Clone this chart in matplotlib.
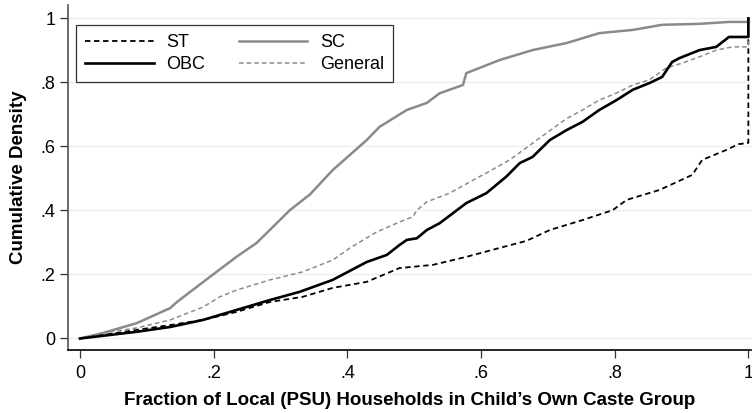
import matplotlib
matplotlib.use("Agg")
import matplotlib.pyplot as plt

plt.rcParams['font.family'] = ['Liberation Sans', 'DejaVu Sans']

st_x = [0.0, 0.085, 0.135, 0.184, 0.234, 0.284, 0.333, 0.378, 0.429, 0.478, 0.528, 0.578,
        0.628, 0.668, 0.703, 0.752, 0.797, 0.818, 0.867, 0.916, 0.931, 0.967, 0.985, 1.0, 1.0]
st_y = [0.0, 0.027, 0.042, 0.058, 0.083, 0.114, 0.130, 0.158, 0.177, 0.220, 0.230, 0.255,
        0.283, 0.305, 0.339, 0.370, 0.401, 0.433, 0.464, 0.511, 0.558, 0.589, 0.607, 0.611, 1.0]

sc_x = [0.0, 0.034, 0.085, 0.135, 0.145, 0.194, 0.234, 0.264, 0.284, 0.314, 0.344, 0.378,
        0.429, 0.448, 0.489, 0.519, 0.538, 0.573, 0.578, 0.628, 0.677, 0.728, 0.777, 0.827,
        0.871, 0.927, 0.971, 1.0, 1.0]
sc_y = [0.0, 0.017, 0.048, 0.095, 0.114, 0.192, 0.255, 0.298, 0.339, 0.401, 0.450, 0.526,
        0.620, 0.661, 0.714, 0.736, 0.766, 0.792, 0.829, 0.870, 0.901, 0.923, 0.954, 0.964,
        0.980, 0.983, 0.989, 0.989, 1.0]

obc_x = [0.0, 0.085, 0.135, 0.184, 0.234, 0.284, 0.329, 0.378, 0.429, 0.459, 0.478, 0.489,
         0.504, 0.519, 0.538, 0.578, 0.608, 0.638, 0.658, 0.677, 0.703, 0.728, 0.752, 0.777,
         0.803, 0.827, 0.852, 0.871, 0.886, 0.897, 0.927, 0.952, 0.971, 1.0, 1.0]
obc_y = [0.0, 0.021, 0.036, 0.058, 0.089, 0.120, 0.146, 0.183, 0.239, 0.261, 0.292, 0.308,
         0.313, 0.339, 0.360, 0.423, 0.454, 0.506, 0.548, 0.567, 0.620, 0.651, 0.677, 0.714,
         0.745, 0.777, 0.798, 0.817, 0.864, 0.876, 0.901, 0.911, 0.942, 0.942, 1.0]

gen_x = [0.0, 0.034, 0.085, 0.135, 0.184, 0.209, 0.234, 0.284, 0.333, 0.378, 0.404, 0.444,
         0.478, 0.498, 0.504, 0.519, 0.553, 0.598, 0.608, 0.643, 0.677, 0.728, 0.752, 0.777,
         0.803, 0.827, 0.852, 0.877, 0.902, 0.927, 0.952, 0.976, 1.0, 1.0]
gen_y = [0.0, 0.017, 0.033, 0.058, 0.098, 0.130, 0.151, 0.183, 0.208, 0.245, 0.283, 0.333,
         0.364, 0.380, 0.401, 0.427, 0.454, 0.506, 0.517, 0.558, 0.610, 0.687, 0.714, 0.745,
         0.767, 0.792, 0.808, 0.845, 0.861, 0.880, 0.901, 0.911, 0.911, 1.0]

x_ticks = [0, 0.2, 0.4, 0.6, 0.8, 1.0]
x_ticklabels = ['0', '.2', '.4', '.6', '.8', '1']
y_ticks = [0, 0.2, 0.4, 0.6, 0.8, 1.0]
y_ticklabels = ['0', '.2', '.4', '.6', '.8', '1']

fig = plt.figure(figsize=(7.52, 4.13), dpi=100)
ax = fig.add_axes([0.0904, 0.1525, 0.9083, 0.8355])

h_st, = ax.plot(st_x, st_y, color='black', lw=1.3, ls=(0, (3, 2)), label='ST', zorder=3)
h_sc, = ax.plot(sc_x, sc_y, color='#8a8a8a', lw=1.8, ls='-', label='SC', zorder=2)
h_obc, = ax.plot(obc_x, obc_y, color='black', lw=1.9, ls='-', label='OBC', zorder=4)
h_gen, = ax.plot(gen_x, gen_y, color='#8c8c8c', lw=1.1, ls=(0, (3, 2)), label='General', zorder=3)

ax.set_xlim(-0.018, 1.004)
ax.set_ylim(-0.036, 1.042)
ax.set_xticks(x_ticks)
ax.set_xticklabels(x_ticklabels)
ax.set_yticks(y_ticks)
ax.set_yticklabels(y_ticklabels)
ax.tick_params(axis='both', labelsize=13, length=6, width=0.9, color='#333333')
ax.tick_params(axis='x', pad=5)
ax.tick_params(axis='y', pad=3)
ax.yaxis.grid(True, color='#eaf0f2', lw=1.0)
ax.set_axisbelow(True)

for s in ['top', 'right']:
    ax.spines[s].set_visible(False)
ax.spines['left'].set_color('#555555')
ax.spines['bottom'].set_color('black')
ax.spines['left'].set_linewidth(1.2)
ax.spines['bottom'].set_linewidth(1.2)

ax.set_xlabel("Fraction of Local (PSU) Households in Child\u2019s Own Caste Group",
              fontsize=13.5, fontweight='bold', labelpad=7)
ax.set_ylabel("Cumulative Density", fontsize=13.5, fontweight='bold', labelpad=10)

leg = ax.legend(handles=[h_st, h_obc, h_sc, h_gen], ncol=2, loc='upper left',
                bbox_to_anchor=(0.0117, 0.942), borderaxespad=0, fontsize=13,
                frameon=True, fancybox=False, edgecolor='black', handlelength=3.8,
                columnspacing=1.85, handletextpad=0.7, borderpad=0.5, labelspacing=0.3)
leg.get_frame().set_linewidth(0.9)

fig.savefig('out.png', dpi=100)
